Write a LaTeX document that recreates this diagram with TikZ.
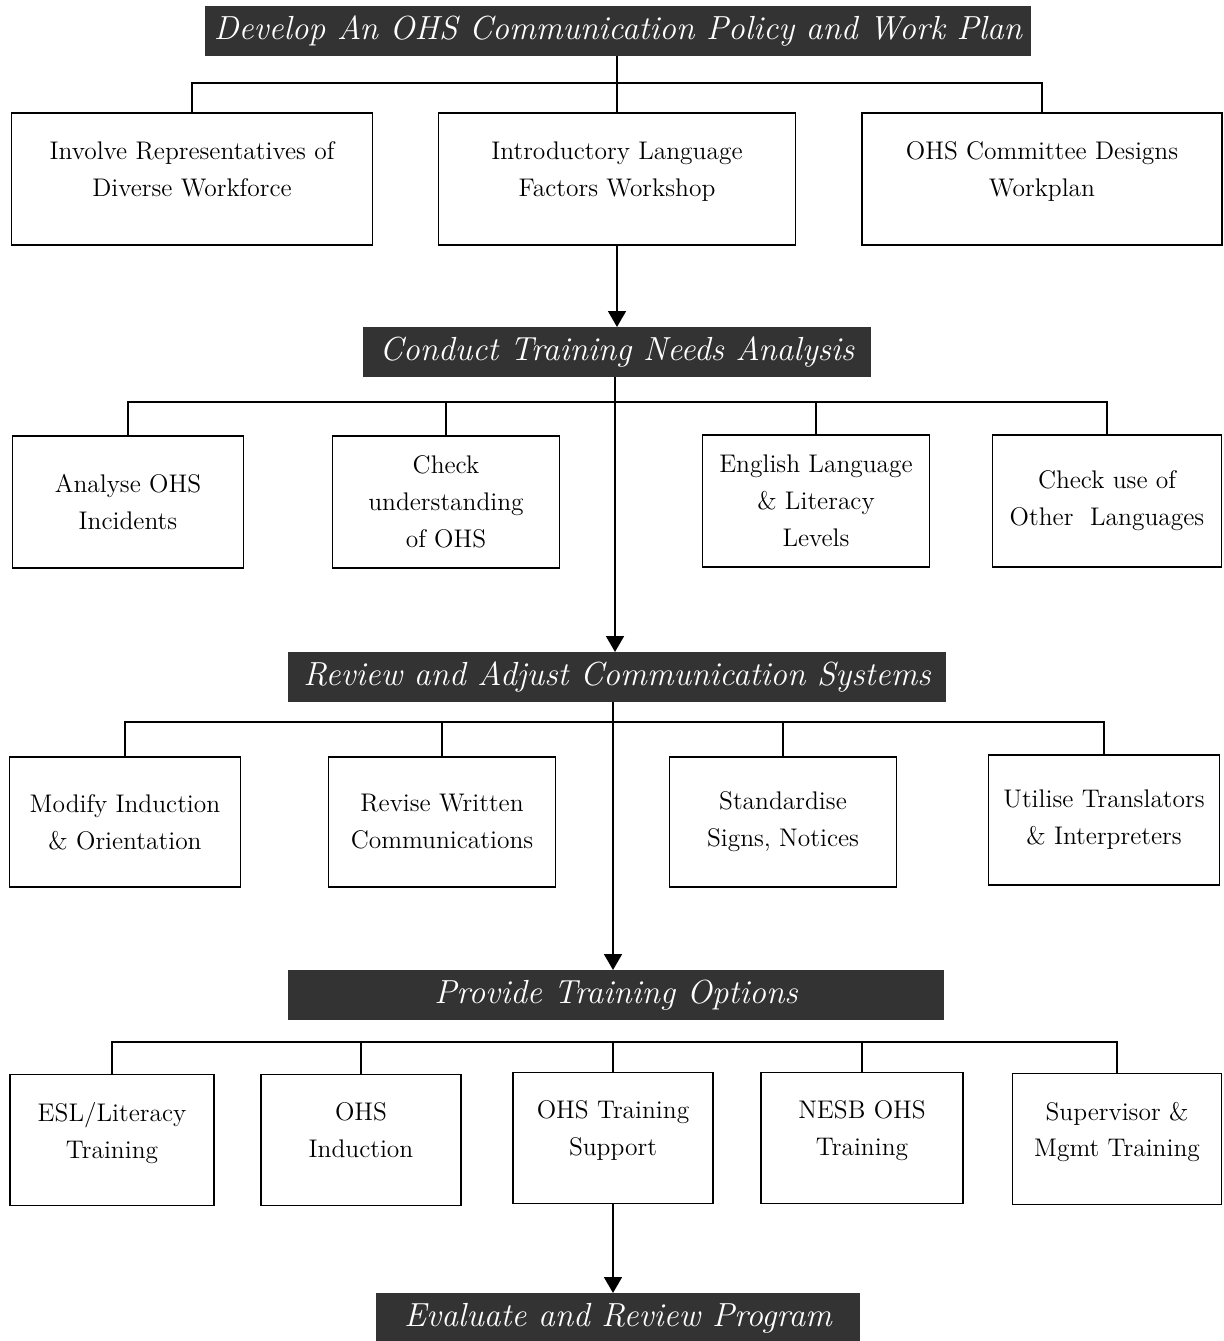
\documentclass[tikz,border=0pt]{standalone}
\usepackage{tikz}
\usetikzlibrary{arrows.meta}

\begin{document}
\begin{tikzpicture}[>={Triangle[width=10pt,length=9pt]},x=0.02cm,y=-0.02cm,
  hdr/.style={fill=black!80,text=white,inner sep=0pt,outer sep=0pt,minimum height=1cm,
    font=\fontsize{19}{22}\selectfont\itshape},
  box/.style={draw,line width=0.7pt,inner sep=0pt,outer sep=0pt,align=center,
    font=\fontsize{14.5}{21}\selectfont},
  lifted/.style={text depth=11pt},
  link/.style={line width=0.8pt},
  main/.style={line width=1.4pt}]

\useasboundingbox (0,0) rectangle (1223,1341);

% stage headings
\node(h1) at (618,31)[hdr,minimum width=16.54cm] {Develop An OHS Communication Policy and Work Plan};
\node(h2) at (617,352)[hdr,minimum width=10.16cm] {Conduct Training Needs Analysis};
\node(h3) at (617,677)[hdr,minimum width=13.16cm] {Review and Adjust Communication Systems};
\node(h4) at (616,995)[hdr,minimum width=13.14cm] {Provide Training Options};
\node(h5) at (618,1318)[hdr,minimum width=9.68cm] {Evaluate and Review Program};

% first row
\node(b1) at (192,179)[box,lifted,minimum width=7.22cm,minimum height=2.64cm] {Involve Representatives of\\Diverse Workforce};
\node(b2) at (617,179)[box,lifted,minimum width=7.14cm,minimum height=2.64cm] {Introductory Language\\Factors Workshop};
\node(b3) at (1042,179)[box,lifted,minimum width=7.2cm,minimum height=2.64cm] {OHS Committee Designs\\Workplan};

% second row
\node(c1) at (128,502)[box,minimum width=4.62cm,minimum height=2.64cm] {Analyse OHS\\Incidents};
\node(c2) at (446,502)[box,minimum width=4.54cm,minimum height=2.64cm] {Check\\understanding\\of OHS};
\node(c3) at (816,501)[box,minimum width=4.54cm,minimum height=2.64cm] {English Language\\\& Literacy\\Levels};
\node(c4) at (1107,501)[box,minimum width=4.58cm,minimum height=2.64cm] {Check use of\\Other\ \ Languages};

% third row
\node(d1) at (125,822)[box,minimum width=4.62cm,minimum height=2.6cm] {Modify Induction\\\& Orientation};
\node(d2) at (442,822)[box,minimum width=4.54cm,minimum height=2.6cm] {Revise Written\\Communications};
\node(d3) at (783,822)[box,minimum width=4.54cm,minimum height=2.6cm] {Standardise\\Signs, Notices};
\node(d4) at (1104,820)[box,minimum width=4.62cm,minimum height=2.6cm] {Utilise Translators\\\& Interpreters};

% fourth row
\node(e1) at (112,1140)[box,lifted,minimum width=4.08cm,minimum height=2.62cm] {ESL/Literacy\\Training};
\node(e2) at (361,1140)[box,lifted,minimum width=4.0cm,minimum height=2.62cm] {OHS\\Induction};
\node(e3) at (613,1138)[box,lifted,minimum width=4.0cm,minimum height=2.62cm] {OHS Training\\Support};
\node(e4) at (862,1138)[box,lifted,minimum width=4.04cm,minimum height=2.62cm] {NESB OHS\\Training};
\node(e5) at (1117,1139)[box,lifted,minimum width=4.18cm,minimum height=2.62cm] {Supervisor \&\\Mgmt Training};

% branch points
\coordinate(j1) at (617,83);
\coordinate(j2) at (617,402);
\coordinate(j3) at (615,722);
\coordinate(j4) at (613,1042);

% stage 1
\draw[main] (h1.south -| j1) -- (b2.north -| j1);
\draw[link] (b1.north) |- (j1) -| (b3.north);
\draw[main,->] (b2.south -| j1) -- (h2.north -| j1);

% stage 2
\draw[link] (c1.north) |- (j2) -| (c4.north);
\draw[link] (c2.north) -- (c2.north |- j2);
\draw[link] (c3.north) -- (c3.north |- j2);
\draw[main,->] (h2.south -| j3) -- (h3.north -| j3);

% stage 3
\draw[link] (d1.north) |- (j3) -| (d4.north);
\draw[link] (d2.north) -- (d2.north |- j3);
\draw[link] (d3.north) -- (d3.north |- j3);
\draw[main,->] (h3.south -| j4) -- (h4.north -| j4);

% stage 4
\draw[link] (e1.north) |- (j4) -| (e5.north);
\draw[link] (e2.north) -- (e2.north |- j4);
\draw[link] (e4.north) -- (e4.north |- j4);
\draw[link] (e3.north) -- (e3.north |- j4);
\draw[main,->] (e3.south) -- (h5.north -| e3.south);

\end{tikzpicture}
\end{document}
